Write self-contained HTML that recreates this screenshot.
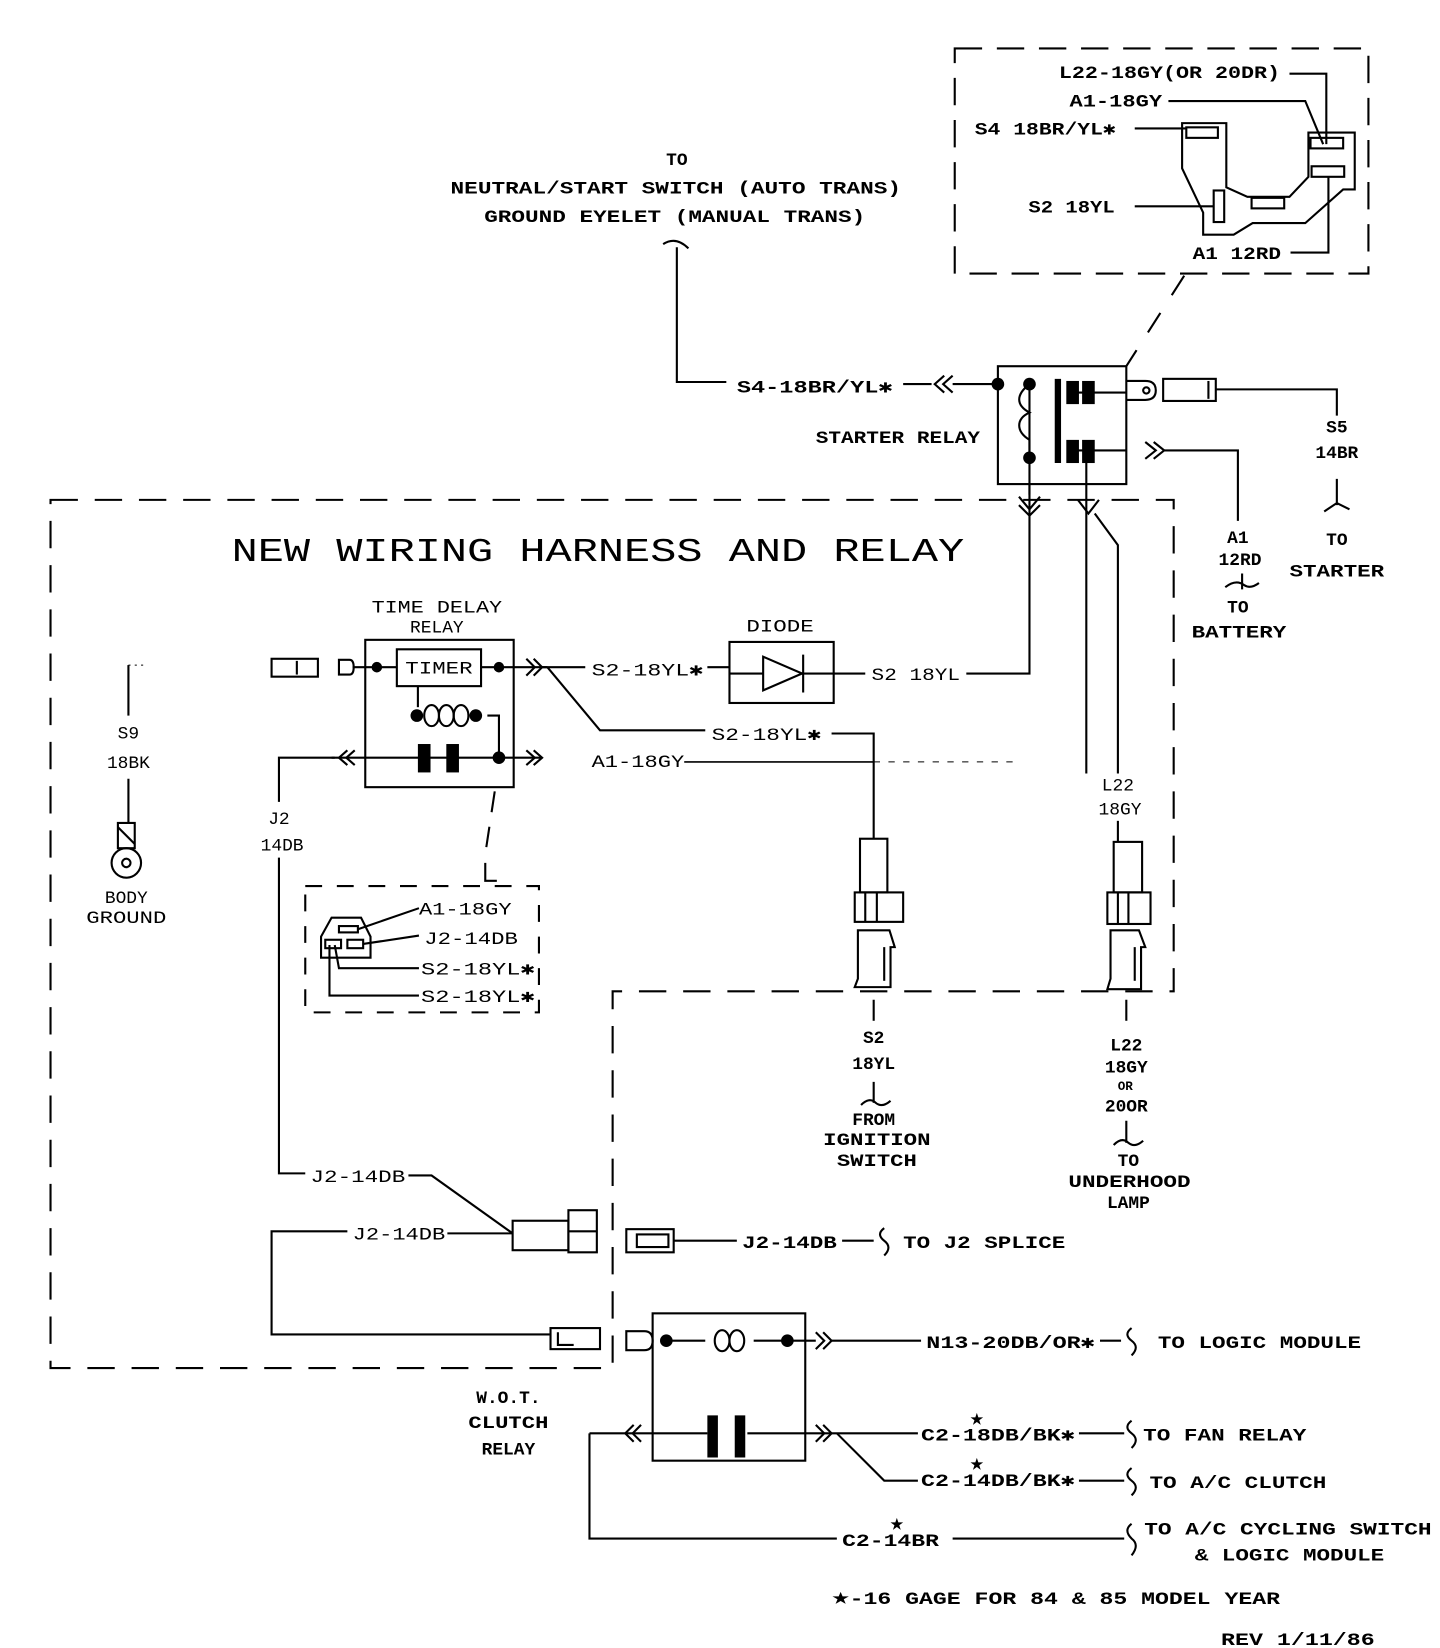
<!DOCTYPE html>
<html><head><meta charset="utf-8"><style>
html,body{margin:0;padding:0;background:#fff;}
svg{display:block;}
text{font-family:"Liberation Mono","DejaVu Sans Mono",monospace;font-size:17px;fill:#000;font-weight:bold;}
.t{font-weight:normal;}
</style></head><body>
<svg width="1440" height="1648" viewBox="0 0 1368 1566" preserveAspectRatio="none" xmlns="http://www.w3.org/2000/svg">
<g fill="none" stroke="#000" stroke-width="2">
<rect x="907" y="46" width="393" height="214" stroke-dasharray="26,14"/>
<path d="M1125 262 L1070 348" stroke-dasharray="22,20"/>
<path d="M1123 117 L1165 117 L1165 178 L1185 187 L1225 187 L1243 168 L1243 126 L1287 126 L1287 180 L1276 180 L1240 212 L1190 212 L1172 223 L1143 223 L1143 202 L1123 160 Z"/>
<rect x="1127" y="121" width="30" height="10"/>
<rect x="1245" y="131" width="31" height="10"/>
<rect x="1246" y="158" width="31" height="10"/>
<rect x="1153" y="181" width="10" height="30"/>
<rect x="1189" y="188" width="31" height="10"/>
<path d="M1225 70 H1260 V137"/>
<path d="M1110 96 H1240 L1257 137"/>
<path d="M1078 122 H1127"/>
<path d="M1078 196 H1153"/>
<path d="M1226 240 H1262 V168"/>
<path d="M643 235 V363 H690"/>
<path d="M630 232 q12 -8 24 4"/>
<path d="M858 365 H885"/>
<path d="M897 357 L888 365 L897 373 M905 357 L896 365 L905 373"/>
<path d="M905 365 H948"/>
<rect x="948" y="348" width="122" height="112"/>
<path d="M978 365 C965 375 965 385 978 392 C965 398 965 410 978 418 L978 435"/>
<path d="M978 470 V365"/>
<path d="M1005 360 V440" stroke-width="6"/>
<path d="M1017 373 H1070 M1017 428 H1070"/>
<path d="M1070 362 H1088 Q1098 362 1098 371 Q1098 380 1088 380 H1070"/>
<circle cx="1089" cy="371" r="3"/>
<rect x="1105" y="360" width="50" height="21"/>
<path d="M1148 362 V379"/>
<path d="M1155 370 H1270 V395"/>
<path d="M1270 455 V480 M1258 486 l12 -8 l12 6"/>
<path d="M1088 420 L1098 428 L1088 436 M1096 420 L1106 428 L1096 436"/>
<path d="M1106 428 H1176 V495"/>
<path d="M1164 558 q10 -8 18 -2 q6 4 14 -2 M1180 545 V560"/>
<path d="M978 460 V640 H918"/>
<path d="M968 472 L978 484 L988 472 M968 480 L978 490 L988 480"/>
<path d="M1032 437 V735"/>
<path d="M1024 475 L1034 488 L1044 475"/>
<path d="M1040 488 L1062 518 V735"/>
<path d="M792 640 H822"/>
<path d="M48 475 H1115 V942 H582 V1300 H48 Z" stroke-dasharray="26,16"/>
<rect x="347" y="608" width="141" height="140"/>
<rect x="377" y="617" width="80" height="35"/>
<path d="M335 634 H377 M457 634 H520"/>
<path d="M397 652 V672"/>
<ellipse cx="410" cy="680" rx="7" ry="10"/>
<ellipse cx="424" cy="680" rx="7" ry="10"/>
<ellipse cx="438" cy="680" rx="7" ry="10"/>
<path d="M463 680 H474 V720"/>
<path d="M315 720 H515"/>
<path d="M264 720 H318 M265 720 V762 M265 815 V1115 H290"/>
<path d="M330 713 L322 720 L330 727 M337 713 L329 720 L337 727"/>
<path d="M500 626 L508 634 L500 642 M507 626 L515 634 L507 642"/>
<path d="M500 713 L508 720 L500 727 M507 713 L515 720 L507 727"/>
<path d="M322 627 H332 Q336 627 336 634 Q336 641 332 641 H322 Z"/>
<rect x="258" y="626" width="44" height="17"/>
<path d="M282 628 V641"/>
<path d="M515 634 H556 M672 634 H693"/>
<path d="M520 634 L570 694 H670"/>
<path d="M650 724 H830" stroke-width="1.5"/>
<path d="M830 724 H970" stroke-width="1" stroke-dasharray="6,8"/>
<path d="M790 697 H830 V797"/>
<rect x="693" y="610" width="99" height="58"/>
<path d="M725 624 L762 640 L725 656 Z M763 622 V658 M693 640 H725 M763 640 H792"/>
<rect x="817" y="797" width="26" height="51"/>
<rect x="812" y="848" width="46" height="28"/>
<path d="M822 848 V876 M833 848 V876"/>
<path d="M815 884 H845 L850 900 L846 900 V938 H812 L815 930 Z"/>
<path d="M840 900 V932"/>
<path d="M830 950 V970"/>
<path d="M818 1050 q8 -8 14 -2 q6 5 14 -2 M830 1028 V1048"/>
<path d="M1062 780 V800"/>
<rect x="1058" y="800" width="27" height="48"/>
<rect x="1052" y="848" width="41" height="30"/>
<path d="M1062 848 V878 M1072 848 V878"/>
<path d="M1055 884 H1082 L1088 900 L1084 900 V940 H1052 L1055 930 Z"/>
<path d="M1078 900 V932"/>
<path d="M1070 950 V970"/>
<path d="M1058 1088 q8 -8 14 -2 q6 5 14 -2 M1070 1065 V1086"/>
<path d="M122 632 V680"/>
<path d="M122 632 H140" stroke-dasharray="2,4" stroke-width="1"/>
<path d="M122 740 V782"/>
<rect x="112" y="782" width="16" height="24"/>
<path d="M112 786 L128 802"/>
<circle cx="120" cy="820" r="14"/>
<circle cx="120" cy="820" r="4"/>
<path d="M290 842 H512 V962 H290 Z" stroke-dasharray="16,14"/>
<path d="M470 752 L462 805" stroke-dasharray="20,14"/>
<path d="M461 820 V837 H472"/>
<path d="M315 872 H343 L352 890 V910 H305 V890 Z"/>
<rect x="322" y="880" width="18" height="6"/>
<rect x="309" y="893" width="15" height="8"/>
<rect x="330" y="893" width="15" height="8"/>
<path d="M340 883 L398 863 M345 897 L398 889 M318 898 L322 920 H398 M313 898 V946 H398"/>
<path d="M388 1117 H410 L487 1172"/>
<path d="M425 1172 H487"/>
<rect x="487" y="1160" width="53" height="28"/>
<rect x="540" y="1150" width="27" height="40"/>
<path d="M540 1170 H567"/>
<path d="M330 1170 H258 V1268 H522"/>
<rect x="523" y="1262" width="47" height="20"/>
<path d="M530 1266 V1278 H545"/>
<rect x="595" y="1168" width="45" height="22"/>
<rect x="605" y="1173" width="30" height="12"/>
<path d="M640 1179 H700 M800 1179 H830"/>
<path d="M840 1167 q-8 6 0 12 q8 6 0 14"/>
<rect x="620" y="1248" width="145" height="140"/>
<path d="M595 1265 H612 Q620 1265 620 1274 Q620 1283 612 1283 H595 Z"/>
<path d="M633 1274 H670 M716 1274 H775"/>
<ellipse cx="686" cy="1274" rx="7" ry="10"/>
<ellipse cx="700" cy="1274" rx="7" ry="10"/>
<path d="M775 1266 L783 1274 L775 1282 M782 1266 L790 1274 L782 1282"/>
<path d="M790 1274 H875 M1045 1274 H1065"/>
<path d="M1075 1262 q-8 6 0 12 q8 6 0 14"/>
<path d="M560 1362 H672 M710 1362 H790"/>
<path d="M677 1345 V1385 M703 1345 V1385" stroke-width="10"/>
<path d="M602 1354 L594 1362 L602 1370 M609 1354 L601 1362 L609 1370"/>
<path d="M775 1354 L783 1362 L775 1370 M782 1354 L790 1362 L782 1370"/>
<path d="M790 1362 H872 M1025 1362 H1068"/>
<path d="M795 1362 L840 1407 H872 M1025 1407 H1068"/>
<path d="M1075 1350 q-8 6 0 12 q8 6 0 14 M1075 1395 q-8 6 0 12 q8 6 0 14"/>
<path d="M560 1362 V1462 H795 M905 1462 H1068"/>
<path d="M1075 1448 q-8 6 0 14 q8 6 0 16"/>
</g>
<g fill="#000">
<circle cx="948" cy="365" r="6"/><circle cx="978" cy="365" r="6"/><circle cx="978" cy="435" r="6"/>
<rect x="1013" y="362" width="12" height="22"/><rect x="1028" y="362" width="12" height="22"/>
<rect x="1013" y="418" width="12" height="22"/><rect x="1028" y="418" width="12" height="22"/>
<circle cx="358" cy="634" r="5"/><circle cx="474" cy="634" r="5"/>
<circle cx="396" cy="680" r="6"/><circle cx="452" cy="680" r="6"/><circle cx="474" cy="720" r="6"/>
<rect x="397" y="707" width="12" height="27"/><rect x="424" y="707" width="12" height="27"/>
<circle cx="633" cy="1274" r="6"/><circle cx="748" cy="1274" r="6"/>
</g>
<g>
<text x="643" y="157" text-anchor="middle">TO</text>
<text x="428" y="184" textLength="428" lengthAdjust="spacingAndGlyphs">NEUTRAL/START SWITCH (AUTO TRANS)</text>
<text x="460" y="211" textLength="362" lengthAdjust="spacingAndGlyphs">GROUND EYELET (MANUAL TRANS)</text>
<text x="1006" y="74" textLength="210" lengthAdjust="spacingAndGlyphs">L22-18GY(OR 20DR)</text>
<text x="1016" y="101" textLength="88" lengthAdjust="spacingAndGlyphs">A1-18GY</text>
<text x="926" y="128" textLength="134" lengthAdjust="spacingAndGlyphs">S4 18BR/YL✱</text>
<text x="977" y="202" textLength="82" lengthAdjust="spacingAndGlyphs">S2 18YL</text>
<text x="1133" y="246" textLength="84" lengthAdjust="spacingAndGlyphs">A1 12RD</text>
<text x="700" y="373" textLength="148" lengthAdjust="spacingAndGlyphs">S4-18BR/YL✱</text>
<text x="775" y="421" textLength="156" lengthAdjust="spacingAndGlyphs">STARTER RELAY</text>
<text x="1270" y="411" text-anchor="middle">S5</text>
<text x="1270" y="435" text-anchor="middle">14BR</text>
<text x="1270" y="518" text-anchor="middle">TO</text>
<text x="1270" y="548" text-anchor="middle" textLength="90" lengthAdjust="spacingAndGlyphs">STARTER</text>
<text x="1176" y="516" text-anchor="middle">A1</text>
<text x="1178" y="537" text-anchor="middle">12RD</text>
<text x="1176" y="582" text-anchor="middle">TO</text>
<text x="1177" y="606" text-anchor="middle" textLength="90" lengthAdjust="spacingAndGlyphs">BATTERY</text>
<text class="t" x="220" y="533" style="font-size:32px" textLength="696" lengthAdjust="spacingAndGlyphs">NEW WIRING HARNESS AND RELAY</text>
<text class="t" x="415" y="582" text-anchor="middle" textLength="124" lengthAdjust="spacingAndGlyphs">TIME DELAY</text>
<text class="t" x="415" y="601" text-anchor="middle">RELAY</text>
<text class="t" x="417" y="640" text-anchor="middle" textLength="64" lengthAdjust="spacingAndGlyphs">TIMER</text>
<text class="t" x="741" y="600" text-anchor="middle" textLength="64" lengthAdjust="spacingAndGlyphs">DIODE</text>
<text class="t" x="562" y="642" textLength="106" lengthAdjust="spacingAndGlyphs">S2-18YL✱</text>
<text class="t" x="828" y="646" textLength="84" lengthAdjust="spacingAndGlyphs">S2 18YL</text>
<text class="t" x="676" y="703" textLength="104" lengthAdjust="spacingAndGlyphs">S2-18YL✱</text>
<text class="t" x="562" y="729" textLength="88" lengthAdjust="spacingAndGlyphs">A1-18GY</text>
<text class="t" x="122" y="702" text-anchor="middle">S9</text>
<text class="t" x="122" y="730" text-anchor="middle">18BK</text>
<text class="t" x="120" y="858" text-anchor="middle">BODY</text>
<text class="t" x="120" y="877" text-anchor="middle" textLength="76" lengthAdjust="spacingAndGlyphs">GROUND</text>
<text class="t" x="265" y="783" text-anchor="middle">J2</text>
<text class="t" x="268" y="808" text-anchor="middle">14DB</text>
<text class="t" x="398" y="869" textLength="88" lengthAdjust="spacingAndGlyphs">A1-18GY</text>
<text class="t" x="403" y="897" textLength="89" lengthAdjust="spacingAndGlyphs">J2-14DB</text>
<text class="t" x="400" y="926" textLength="108" lengthAdjust="spacingAndGlyphs">S2-18YL✱</text>
<text class="t" x="400" y="952" textLength="108" lengthAdjust="spacingAndGlyphs">S2-18YL✱</text>
<text class="t" x="1062" y="751" text-anchor="middle">L22</text>
<text class="t" x="1064" y="774" text-anchor="middle">18GY</text>
<text x="830" y="991" text-anchor="middle">S2</text>
<text x="830" y="1016" text-anchor="middle">18YL</text>
<text x="830" y="1069" text-anchor="middle">FROM</text>
<text x="833" y="1088" text-anchor="middle" textLength="102" lengthAdjust="spacingAndGlyphs">IGNITION</text>
<text x="833" y="1108" text-anchor="middle" textLength="76" lengthAdjust="spacingAndGlyphs">SWITCH</text>
<text x="1070" y="998" text-anchor="middle">L22</text>
<text x="1070" y="1019" text-anchor="middle">18GY</text>
<text x="1069" y="1036" text-anchor="middle" style="font-size:12px">OR</text>
<text x="1070" y="1056" text-anchor="middle">20OR</text>
<text x="1072" y="1108" text-anchor="middle">TO</text>
<text x="1073" y="1128" text-anchor="middle" textLength="116" lengthAdjust="spacingAndGlyphs">UNDERHOOD</text>
<text x="1072" y="1148" text-anchor="middle">LAMP</text>
<text class="t" x="295" y="1123" textLength="90" lengthAdjust="spacingAndGlyphs">J2-14DB</text>
<text class="t" x="335" y="1178" textLength="88" lengthAdjust="spacingAndGlyphs">J2-14DB</text>
<text x="705" y="1186" textLength="90" lengthAdjust="spacingAndGlyphs">J2-14DB</text>
<text x="858" y="1186" textLength="154" lengthAdjust="spacingAndGlyphs">TO J2 SPLICE</text>
<text x="483" y="1333" text-anchor="middle">W.O.T.</text>
<text x="483" y="1357" text-anchor="middle" textLength="76" lengthAdjust="spacingAndGlyphs">CLUTCH</text>
<text x="483" y="1382" text-anchor="middle">RELAY</text>
<text x="880" y="1281" textLength="160" lengthAdjust="spacingAndGlyphs">N13-20DB/OR✱</text>
<text x="1100" y="1281" textLength="193" lengthAdjust="spacingAndGlyphs">TO LOGIC MODULE</text>
<text x="875" y="1369" textLength="146" lengthAdjust="spacingAndGlyphs">C2-18DB/BK✱</text>
<text x="1086" y="1369" textLength="155" lengthAdjust="spacingAndGlyphs">TO FAN RELAY</text>
<text x="875" y="1412" textLength="146" lengthAdjust="spacingAndGlyphs">C2-14DB/BK✱</text>
<text x="1092" y="1414" textLength="168" lengthAdjust="spacingAndGlyphs">TO A/C CLUTCH</text>
<text x="800" y="1469" textLength="92" lengthAdjust="spacingAndGlyphs">C2-14BR</text>
<text x="1087" y="1458" textLength="273" lengthAdjust="spacingAndGlyphs">TO A/C CYCLING SWITCH</text>
<text x="1135" y="1483" textLength="180" lengthAdjust="spacingAndGlyphs">&amp; LOGIC MODULE</text>
<text x="928" y="1354" text-anchor="middle" style="font-size:22px">★</text>
<text x="928" y="1397" text-anchor="middle" style="font-size:22px">★</text>
<text x="852" y="1454" text-anchor="middle" style="font-size:22px">★</text>
<text x="790" y="1524" textLength="426" lengthAdjust="spacingAndGlyphs"><tspan style="font-size:22px">★</tspan>-16 GAGE FOR 84 &amp; 85 MODEL YEAR</text>
<text x="1160" y="1563" textLength="146" lengthAdjust="spacingAndGlyphs">REV 1/11/86</text>
</g>
</svg>
</body></html>
